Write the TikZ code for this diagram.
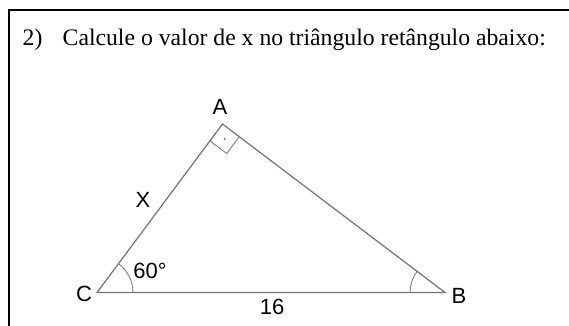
\documentclass[tikz,border=0pt]{standalone}
\usepackage{fontspec}
\usetikzlibrary{calc}
\setmainfont{Liberation Serif}
\newfontfamily\lblfont{Liberation Sans}
\tikzset{
  edge/.style={draw=black!55, line width=1.2pt},
  arcmark/.style={draw=black!55, line width=0.8pt},
  lbl/.style={font=\lblfont\fontsize{22}{24}\selectfont, inner sep=0pt},
  title/.style={font=\fontsize{23.7}{26}\selectfont, inner sep=0pt, anchor=base west},
  frame/.style={draw=black, line width=2.4pt}
}
\begin{document}
\begin{tikzpicture}[x=1pt,y=-1pt]
\useasboundingbox (0,0) rectangle (569,325);
\fill[white] (0,0) rectangle (569,325);
% frame (left and top only visible)
\coordinate (f1) at (9,326);
\coordinate (f2) at (9,10);
\coordinate (f3) at (570,10);
\draw[frame] (f1) -- (f2) -- (f3);
% title
\node[title] (num) at (22.5,45.5) {2)};
\node[title] (txt) at (62.5,45.5) {Calcule o valor de x no triângulo retângulo abaixo:};
% triangle
\coordinate (C) at (97,292.5);
\coordinate (A) at (222.5,124);
\coordinate (B) at (445,292.5);
\draw[edge, line join=miter] (C) -- (A) -- (B) -- cycle;
% right angle mark
\coordinate (r1) at ($(A)!21pt!(C)$);
\coordinate (r2) at ($(A)!21pt!(B)$);
\coordinate (r3) at ($(r1)+(r2)-(A)$);
\draw[arcmark] (r1) -- (r3) -- (r2);
\fill[black!60] ($(A)!0.5!(r3)$) circle (1.1pt);
% angle arcs
\draw[arcmark] ($(C)+(36,0)$) arc[start angle=0, end angle=-53.3, radius=36];
\draw[arcmark] ($(B)+(-35,0)$) arc[start angle=180, end angle=217.2, radius=35];
% labels
\node[lbl] (lA) at (220,107) {A};
\node[lbl] (lX) at (143,200) {X};
\node[lbl] (l60) at (150,271) {60°};
\node[lbl] (lC) at (84,294) {C};
\node[lbl] (lB) at (459,296) {B};
\node[lbl] (l16) at (272,307) {16};
\end{tikzpicture}
\end{document}
